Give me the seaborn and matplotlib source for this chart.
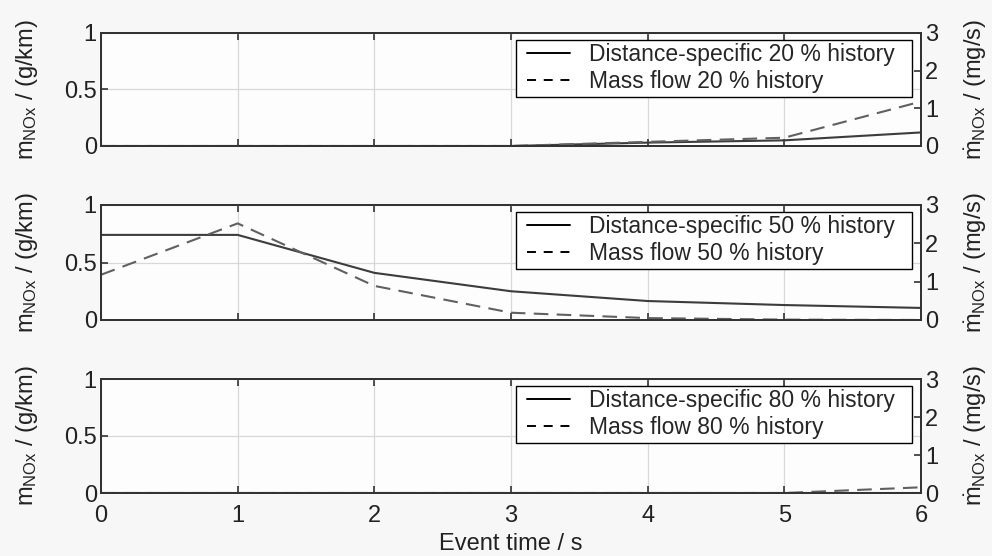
import numpy as np
import pandas as pd
import matplotlib
matplotlib.use("Agg")
import matplotlib.pyplot as plt
from matplotlib.patches import Rectangle
import seaborn as sns

# ---- data ----
event_time = [0, 1, 2, 3, 4, 5, 6]
hist_labels = ["20", "50", "80"]
dist_20 = [0.0, 0.0, 0.0, 0.0, 0.03, 0.05, 0.12]
mass_20 = [0.0, 0.0, 0.0, 0.0, 0.11, 0.22, 1.18]
dist_50 = [0.74, 0.74, 0.41, 0.25, 0.165, 0.13, 0.105]
mass_50 = [1.18, 2.52, 0.89, 0.19, 0.05, 0.01, 0.0]
dist_80 = [0.0, 0.0, 0.0, 0.0, 0.0, 0.0, 0.0]
mass_80 = [0.0, 0.0, 0.0, 0.0, 0.0, 0.0, 0.15]
x_ticks = [0, 1, 2, 3, 4, 5, 6]
left_ticks = [0, 0.5, 1]
left_ticklabels = ["0", "0.5", "1"]
right_ticks = [0, 1, 2, 3]

sns.set_theme(style="white")
plt.rcParams["font.family"] = ["Liberation Sans", "DejaVu Sans"]
plt.rcParams["mathtext.fontset"] = "custom"
plt.rcParams["mathtext.rm"] = "Liberation Sans"
plt.rcParams["mathtext.it"] = "Liberation Sans:italic"

fig = plt.figure(figsize=(9.92, 5.56), dpi=100)
fig.patch.set_facecolor("#f7f7f7")

W = 992; H = 556
left_px, right_px = 101, 921
panels_px = [(33, 146), (205, 320), (379, 493)]

dists = [dist_20, dist_50, dist_80]
masses = [mass_20, mass_50, mass_80]

line_col = "#3c3c3c"
dash_col = "#606060"
spine_col = "#333333"
fs = 17
fs_leg = 16.5

legends = []
for i, (top, bot) in enumerate(panels_px):
    ax = fig.add_axes([left_px / W, 1 - bot / H, (right_px - left_px) / W, (bot - top) / H])
    ax.set_facecolor("#fdfdfd")
    ax2 = ax.twinx()
    df = pd.DataFrame({"t": event_time, "d": dists[i], "m": masses[i]})
    sns.lineplot(data=df, x="t", y="d", ax=ax, color=line_col, lw=1.5, legend=False)
    sns.lineplot(data=df, x="t", y="m", ax=ax2, color=dash_col, lw=1.5, linestyle=(0, (7, 4)), legend=False)
    ax.set_xlim(0, 6)
    ax.set_ylim(0, 1)
    ax2.set_ylim(0, 3)
    ax.set_yticks(left_ticks)
    ax.set_yticklabels(left_ticklabels)
    ax2.set_yticks(right_ticks)
    ax.set_xticks(x_ticks)
    ax.grid(True, color="#d8d8d8", lw=0.9)
    ax.set_axisbelow(True)
    for a in (ax, ax2):
        for s in a.spines.values():
            s.set_color(spine_col)
            s.set_linewidth(1.4)
        a.tick_params(direction="in", length=5, width=1.2, color=spine_col,
                      labelsize=fs, labelcolor="#222222", pad=3)
    ax.tick_params(axis="x", top=True, bottom=True, pad=9)
    ax.set_ylabel(r"m$_{\mathrm{NOx}}$ / (g/km)", fontsize=fs, color="#222222")
    ax2.set_ylabel(r"$\dot{\mathrm{m}}_{\mathrm{NOx}}$ / (mg/s)", fontsize=fs, color="#222222")
    ax.set_xlabel("")
    if i < 2:
        ax.set_xticklabels([])
    else:
        ax.set_xlabel("Event time / s", fontsize=fs, color="#222222", labelpad=4)
    h1 = plt.Line2D([], [], color="black", lw=1.4)
    h2 = plt.Line2D([], [], color="black", lw=1.4, linestyle=(0, (4.6, 4.0)))
    ax_h = bot - top
    leg = ax2.legend([h1, h2],
                     [f"Distance-specific {hist_labels[i]} % history",
                      f"Mass flow {hist_labels[i]} % history"],
                     loc="upper right",
                     bbox_to_anchor=(1 - 26 / (right_px - left_px), 1 - 10 / ax_h),
                     fontsize=fs_leg, frameon=False,
                     handlelength=1.88, handletextpad=0.83,
                     borderpad=0.0, labelspacing=0.16, borderaxespad=0)
    leg.set_zorder(6)
    ax.yaxis.set_label_coords(-0.074, 0.5)
    ax2.yaxis.set_label_coords(1.05, 0.5)
    legends.append((ax2, leg))

fig.canvas.draw()
for ax2, leg in legends:
    bb = leg.get_window_extent()
    x0, y0 = bb.x0 - 11, bb.y0 - 4
    x1, y1 = bb.x1 + 17, bb.y1 + 3
    inv = ax2.transAxes.inverted()
    (ax0, ay0), (ax1, ay1) = inv.transform([(x0, y0), (x1, y1)])
    rect = Rectangle((ax0, ay0), ax1 - ax0, ay1 - ay0, transform=ax2.transAxes,
                     facecolor="white", edgecolor="black", lw=1.0, zorder=5.5)
    ax2.add_patch(rect)

fig.savefig("out.png", dpi=100, facecolor=fig.get_facecolor())
